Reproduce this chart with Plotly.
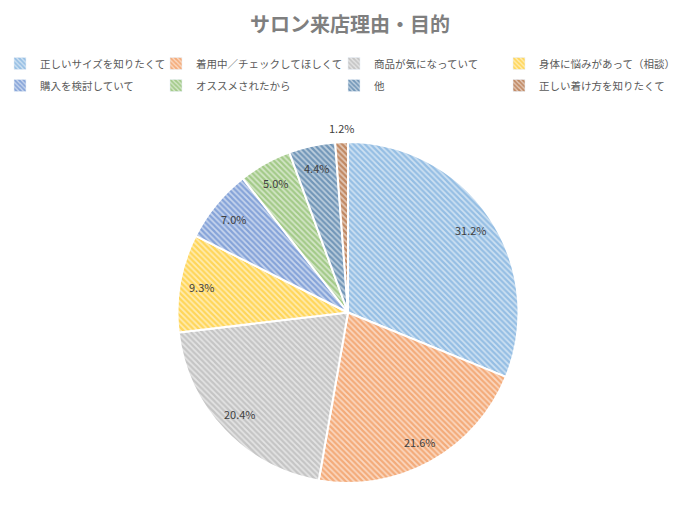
import math
import plotly.graph_objects as go

# ── Data ─────────────────────────────────────────────────────────────────────
labels = [
    "正しいサイズを知りたくて",
    "着用中／チェックしてほしくて",
    "商品が気になっていて",
    "身体に悩みがあって（相談）",
    "購入を検討していて",
    "オススメされたから",
    "他",
    "正しい着け方を知りたくて",
]
values = [31.2, 21.6, 20.4, 9.3, 7.0, 5.0, 4.4, 1.2]
colors = ["#5B9BD5", "#ED7D31", "#A5A5A5", "#FFC000",
          "#4472C4", "#70AD47", "#255E91", "#9E480E"]

TEXT = "#404040"
LEGEND_TEXT = "#595959"
FONT = "Noto Sans CJK JP"
W, H = 700, 518

# pie box in pixels (left, right, top, bottom)
PIE_L, PIE_R, PIE_T, PIE_B = 0, 696, 142, 483
dom_x = [PIE_L / W, PIE_R / W]
dom_y = [1 - PIE_B / H, 1 - PIE_T / H]

# legend: 4 columns x 2 rows, one plotly legend per column
LEG_COLS_X = [0, 156, 334, 499]     # px
LEG_TOP = 49                        # px from top


def tint(hex_color, k):
    """blend colour toward white (k = share of white)"""
    r, g, b = (int(hex_color[i:i + 2], 16) for i in (1, 3, 5))
    return "#%02x%02x%02x" % tuple(round(c + (255 - c) * k) for c in (r, g, b))


def hatch(c):
    return dict(shape="\\", fgcolor=c, size=4, solidity=0.55, fillmode="overlay")


fig = go.Figure()
fig.add_trace(go.Pie(
    labels=labels,
    values=values,
    sort=False,
    direction="clockwise",
    rotation=0,
    textinfo="none",
    showlegend=False,
    domain=dict(x=dom_x, y=dom_y),
    marker=dict(
        colors=[tint(c, 0.7) for c in colors],
        line=dict(color="#ffffff", width=2),
        pattern=dict(shape="\\", fgcolor=colors, size=4, solidity=0.55,
                     fillmode="overlay"),
    ),
    hoverinfo="label+percent",
))

# legend-only entries (empty bars) so columns can sit where Excel puts them
legend_layout = {}
for i, (lab, c) in enumerate(zip(labels, colors)):
    col = i % 4
    lid = "legend" if col == 0 else f"legend{col + 1}"
    fig.add_trace(go.Bar(
        x=[None], y=[None], name=lab, legend=lid, legendgroup=lab,
        marker=dict(color=tint(c, 0.7), pattern=hatch(c)),
        hoverinfo="skip",
    ))
    legend_layout[lid] = dict(
        orientation="v", x=LEG_COLS_X[col] / W, xanchor="left",
        y=1 - LEG_TOP / H, yanchor="top", tracegroupgap=3,
        bgcolor="rgba(0,0,0,0)",
        font=dict(size=10.5, color=LEGEND_TEXT, family=FONT),
        itemwidth=30,
    )

# data labels, placed near the rim like Excel's "best fit"
cx = (dom_x[0] + dom_x[1]) / 2
cy = (dom_y[0] + dom_y[1]) / 2
R = min(PIE_R - PIE_L, PIE_B - PIE_T) / 2
total = sum(values)
cum = 0.0
for i, v in enumerate(values):
    mid = (cum + v / 2) / total * 2 * math.pi
    cum += v
    r = R * (1.08 if i == len(values) - 1 else 0.87)
    fig.add_annotation(
        x=cx + r * math.sin(mid) / W,
        y=cy + r * math.cos(mid) / H,
        xref="paper", yref="paper", xanchor="center", yanchor="middle",
        text=f"{v:.1f}%", showarrow=False,
        font=dict(size=11, color=TEXT, family=FONT),
    )

fig.update_layout(
    width=W, height=H,
    paper_bgcolor="#ffffff",
    plot_bgcolor="#ffffff",
    font=dict(family=FONT, size=11, color=LEGEND_TEXT),
    title=dict(text="<b>サロン来店理由・目的</b>", x=0.5, xanchor="center",
               y=1 - 25 / H, yanchor="middle",
               font=dict(size=20, color="#7f7f7f", family=FONT)),
    xaxis=dict(visible=False),
    yaxis=dict(visible=False),
    margin=dict(l=0, r=0, t=0, b=0),
    showlegend=True,
    **legend_layout,
)

# drop the browser's default 8px body margin so the figure fills the window
fig.write_html("out.html", config={"displayModeBar": False},
               post_script="document.body.style.margin='0';")
